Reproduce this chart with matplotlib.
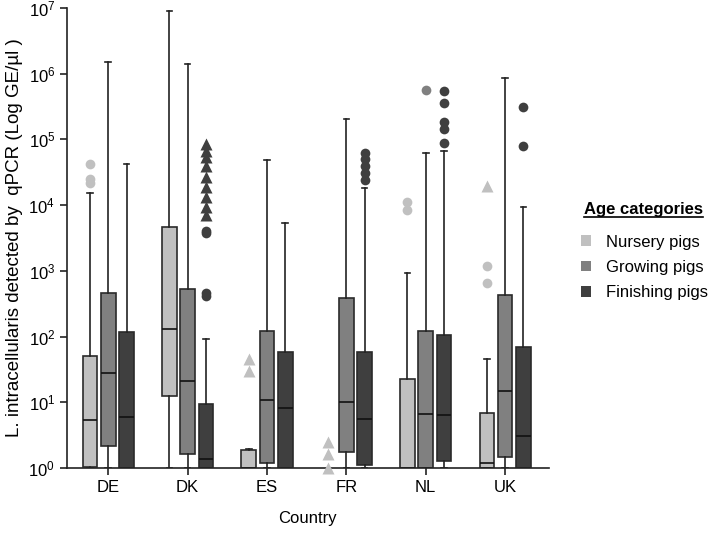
import numpy as np
import matplotlib
matplotlib.use("Agg")
import matplotlib.pyplot as plt
from matplotlib.patches import Patch

plt.rcParams['font.family'] = ['Liberation Sans', 'DejaVu Sans']
plt.rcParams['mathtext.fontset'] = 'custom'
plt.rcParams['mathtext.rm'] = 'Liberation Sans'
plt.rcParams['mathtext.it'] = 'Liberation Sans:italic'
plt.rcParams['mathtext.bf'] = 'Liberation Sans:bold'

countries = ["DE", "DK", "ES", "FR", "NL", "UK"]
series = ["Nursery pigs", "Growing pigs", "Finishing pigs"]
colors = ["#c0c0c0", "#808080", "#3f3f3f"]

# log10 values: whisker low, q1, median, q3, whisker high  (None = no box)
nursery = [
    [0, 0.01, 0.73, 1.70, 4.18],
    [0, 1.10, 2.12, 3.67, 6.96],
    [0, 0.0, 0.0, 0.27, 0.29],
    None,
    [0, 0.0, 0.0, 1.35, 2.97],
    [0, 0.0, 0.07, 0.84, 1.66],
]
growing = [
    [0, 0.33, 1.45, 2.67, 6.18],
    [0, 0.22, 1.33, 2.72, 6.15],
    [0, 0.08, 1.04, 2.09, 4.68],
    [0, 0.25, 1.01, 2.58, 5.31],
    [0, 0.0, 0.82, 2.09, 4.80],
    [0, 0.17, 1.17, 2.64, 5.93],
]
finishing = [
    [0, 0.0, 0.78, 2.07, 4.63],
    [0, 0.0, 0.14, 0.97, 1.96],
    [0, 0.0, 0.92, 1.77, 3.73],
    [0, 0.04, 0.75, 1.77, 4.26],
    [0, 0.10, 0.80, 2.02, 4.83],
    [0, 0.0, 0.48, 1.84, 3.97],
]

# outliers (log10) : circles and triangles per series per country
nursery_circles = [[4.62, 4.40, 4.34], [], [], [], [4.05, 3.93], [3.08, 2.81]]
nursery_triangles = [[], [], [1.66, 1.48], [0.39, 0.22, 0.0], [], [4.29]]
growing_circles = [[], [], [], [], [5.75], []]
growing_triangles = [[], [], [], [], [], []]
finishing_circles = [[], [3.61, 3.58, 2.66, 2.61], [], [4.80, 4.70, 4.60, 4.49, 4.38],
                     [5.73, 5.55, 5.27, 5.16, 4.95], [5.49, 4.90]]
finishing_triangles = [[], [4.93, 4.83, 4.73, 4.60, 4.43, 4.27, 4.13, 3.97, 3.85],
                       [], [], [], []]

fig = plt.figure(figsize=(7.09, 5.48), dpi=100)
ax = fig.add_axes([0.0945, 0.146, 0.6795, 0.8394])

offsets = [-0.23, 0.0, 0.23]
width = 0.185
all_boxes = [nursery, growing, finishing]
all_circ = [nursery_circles, growing_circles, finishing_circles]
all_tri = [nursery_triangles, growing_triangles, finishing_triangles]

for si in range(3):
    stats = []
    pos = []
    for ci, b in enumerate(all_boxes[si]):
        if b is None:
            continue
        v = [10 ** x for x in b]
        stats.append(dict(whislo=v[0], q1=v[1], med=v[2], q3=v[3], whishi=v[4], fliers=[]))
        pos.append(ci + offsets[si])
    ax.bxp(stats, positions=pos, widths=width, patch_artist=True, showfliers=False,
           boxprops=dict(facecolor=colors[si], edgecolor="#2a2a2a", linewidth=1.2),
           medianprops=dict(color="#111111", linewidth=1.2),
           whiskerprops=dict(color="#222222", linewidth=1.2),
           capprops=dict(color="#222222", linewidth=1.2), capwidths=0.07,
           zorder=2)
    for ci in range(len(countries)):
        c = all_circ[si][ci]
        if c:
            ax.plot([ci + offsets[si]] * len(c), [10 ** x for x in c], 'o', ms=7,
                    color=colors[si], mec='none', zorder=3, clip_on=False)
        t = all_tri[si][ci]
        if t:
            ax.plot([ci + offsets[si]] * len(t), [10 ** x for x in t], '^', ms=8,
                    color=colors[si], mec='none', zorder=3, clip_on=False)

ax.set_yscale('log')
ax.set_ylim(1, 1e7)
ax.set_xlim(-0.52, 5.55)
ax.set_yticks([10 ** k for k in range(8)])
ax.set_yticklabels([r"$10^{%d}$" % k for k in range(8)], fontsize=12)
ax.yaxis.set_minor_locator(matplotlib.ticker.NullLocator())
ax.set_xticks(range(len(countries)))
ax.set_xticklabels(countries, fontsize=12)
ax.tick_params(axis='both', direction='out', length=5, width=1.2, color="#222222")
for s in ['top', 'right']:
    ax.spines[s].set_visible(False)
for s in ['left', 'bottom']:
    ax.spines[s].set_linewidth(1.2)
    ax.spines[s].set_color("#222222")

ax.set_xlabel("Country", fontsize=12, labelpad=12)
ax.set_ylabel("L. intracellularis detected by  qPCR (Log GE/µl )", fontsize=13.5, labelpad=4)

handles = [Patch(facecolor=colors[i], edgecolor='none') for i in range(3)]
leg = fig.legend(handles, series, loc='upper left', bbox_to_anchor=(0.8195, 0.572),
                 frameon=False, fontsize=12, borderpad=0, borderaxespad=0,
                 handlelength=0.6, handleheight=0.6, handletextpad=0.9,
                 labelspacing=0.62)

title = fig.text(584 / 709, 1 - 210 / 548, "Age categories", fontsize=12,
                 fontweight='bold', ha='left', va='center')

fig.canvas.draw()
bb = title.get_window_extent()
inv = fig.transFigure.inverted()
(x0, y0), (x1, y1) = inv.transform([(bb.x0, bb.y0), (bb.x1, bb.y1)])
fig.add_artist(plt.Line2D([x0, x1], [y0 + 0.001, y0 + 0.001], color='black', lw=1.2,
                          transform=fig.transFigure))

fig.savefig("out.png", dpi=100)
